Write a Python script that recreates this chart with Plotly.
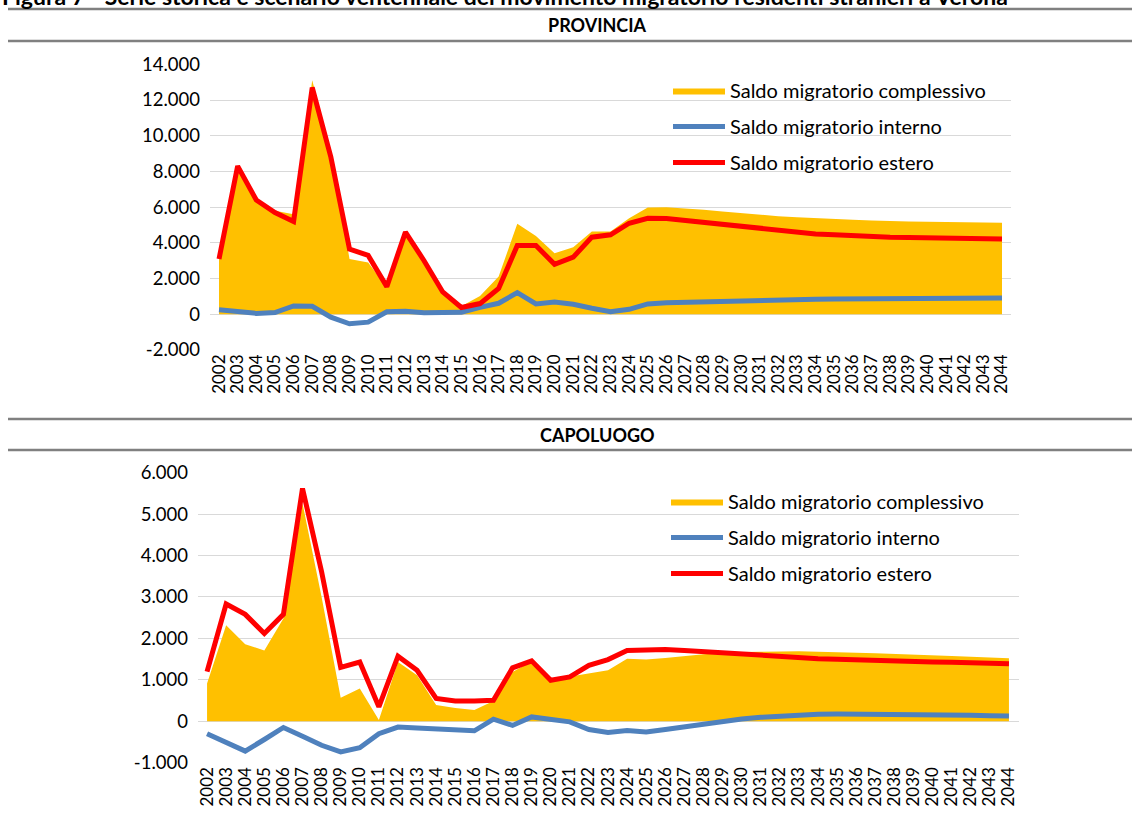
import plotly.graph_objects as go

years = [str(y) for y in range(2002, 2045)]

# PROVINCIA
prov_complessivo = [3200, 8200, 6300, 5800, 5600, 13100, 9100, 3100, 2900, 1500,
                    4400, 2900, 1300, 450, 1030, 2110, 5070, 4390, 3420, 3760,
                    4640, 4640, 5380, 5980, 6000, 5940, 5850, 5760, 5660, 5570,
                    5490, 5440, 5380, 5330, 5290, 5250, 5210, 5200, 5180, 5160,
                    5140, 5120, 5120]
prov_interno = [250, 150, 50, 100, 470, 450, -160, -530, -440, 145,
                165, 80, 120, 110, 390, 617, 1215, 580, 690, 560,
                340, 150, 280, 580, 640, 670, 710, 750, 770, 785,
                800, 820, 840, 860, 870, 880, 885, 890, 895, 900,
                905, 910, 910]
prov_estero = [3100, 8300, 6400, 5700, 5200, 12700, 8800, 3650, 3300, 1550,
               4600, 3000, 1250, 380, 600, 1450, 3850, 3850, 2800, 3200,
               4320, 4450, 5100, 5380, 5360, 5250, 5120, 4990, 4880, 4770,
               4670, 4580, 4500, 4450, 4390, 4350, 4320, 4300, 4280, 4260,
               4240, 4230, 4210]

# CAPOLUOGO
cap_complessivo = [910, 2320, 1860, 1710, 2480, 5260, 3000, 570, 790, 30,
                   1430, 1110, 390, 320, 270, 490, 1190, 1450, 1000, 1080,
                   1160, 1230, 1510, 1490, 1530, 1580, 1615, 1650, 1675, 1680,
                   1690, 1690, 1680, 1675, 1655, 1640, 1620, 1605, 1590, 1575,
                   1560, 1545, 1520]
cap_interno = [-300, -500, -720, -440, -150, -360, -580, -740, -640, -300,
               -140, -160, -185, -185, -230, 50, -100, 105, 50, -15,
               -200, -270, -220, -260, -200, -135, -65, 0, 55, 95,
               130, 150, 170, 175, 175, 175, 170, 165, 160, 150,
               145, 135, 130]
cap_estero = [1200, 2830, 2580, 2120, 2580, 5620, 3610, 1300, 1430, 350,
              1570, 1230, 550, 490, 490, 507, 1290, 1460, 990, 1070,
              1350, 1490, 1710, 1730, 1730, 1710, 1680, 1650, 1620, 1585,
              1560, 1540, 1510, 1500, 1480, 1465, 1450, 1440, 1430, 1425,
              1415, 1410, 1390]

prov_tickvals = [-2000, 0, 2000, 4000, 6000, 8000, 10000, 12000, 14000]
prov_ticktext = ["-2.000", "0", "2.000", "4.000", "6.000", "8.000", "10.000", "12.000", "14.000"]
cap_tickvals = [-1000, 0, 1000, 2000, 3000, 4000, 5000, 6000]
cap_ticktext = ["-1.000", "0", "1.000", "2.000", "3.000", "4.000", "5.000", "6.000"]

names = ["Saldo migratorio complessivo", "Saldo migratorio interno", "Saldo migratorio estero"]
YELLOW = "#FFC000"
BLUE = "#4F81BD"
RED = "#FF0000"
FONT = "Lato"

W, H = 1132, 824
def px(x):
    return x / W
def py(y):
    return 1 - y / H

fig = go.Figure()

def add_panel(comp, intr, est, xa, ya, leg):
    fig.add_trace(go.Scatter(x=years, y=comp, name=names[0], mode="lines", fill="tozeroy",
                             fillcolor=YELLOW, line=dict(width=0, color=YELLOW),
                             xaxis=xa, yaxis=ya, legend=leg, legendgroup=leg + "a"))
    fig.add_trace(go.Scatter(x=years, y=intr, name=names[1], mode="lines",
                             line=dict(width=5, color=BLUE),
                             xaxis=xa, yaxis=ya, legend=leg, legendgroup=leg + "b"))
    fig.add_trace(go.Scatter(x=years, y=est, name=names[2], mode="lines",
                             line=dict(width=5, color=RED),
                             xaxis=xa, yaxis=ya, legend=leg, legendgroup=leg + "c"))

add_panel(prov_complessivo, prov_interno, prov_estero, "x", "y", "legend")
add_panel(cap_complessivo, cap_interno, cap_estero, "x2", "y2", "legend2")

xcommon = dict(type="category", range=[-0.5, 42.5], tickmode="linear", tick0=0, dtick=1,
               tickangle=-90, showgrid=False, zeroline=False, showline=False, automargin=False,
               tickfont=dict(family=FONT, size=17, color="#000000"), ticks="", fixedrange=True)
ycommon = dict(showgrid=True, gridcolor="#D9D9D9", gridwidth=1.3, zeroline=False, showline=False,
               automargin=False,
               tickfont=dict(family=FONT, size=18.5, color="#000000"),
               ticks="", tickmode="array")

legcommon = dict(bgcolor="rgba(0,0,0,0)", font=dict(family=FONT, size=20, color="#000000"),
                 tracegroupgap=7, itemwidth=52, xanchor="left", yanchor="top",
                 traceorder="grouped")

# y axes are placed slightly left of the plot area so their labels sit ~20px from the grid
fig.update_layout(
    template="none",
    width=W, height=H,
    margin=dict(l=0, r=0, t=0, b=0, pad=0, autoexpand=False),
    paper_bgcolor="white", plot_bgcolor="white",
    xaxis=dict(domain=[px(209.7), px(1011.3)], anchor="y", **xcommon),
    yaxis=dict(domain=[py(350), py(64.3)], anchor="free", position=px(200), range=[-2000, 14000],
               tickvals=prov_tickvals, ticktext=prov_ticktext, **ycommon),
    xaxis2=dict(domain=[px(197.5), px(1018.5)], anchor="y2", **xcommon),
    yaxis2=dict(domain=[py(762.7), py(472.7)], anchor="free", position=px(188), range=[-1000, 6000],
                tickvals=cap_tickvals, ticktext=cap_ticktext, **ycommon),
    legend=dict(x=px(668), y=py(71), **legcommon),
    legend2=dict(x=px(666), y=py(482), **legcommon),
    showlegend=True,
)

line_col = "#808080"
for yy in [9, 41, 419, 450]:
    fig.add_shape(type="line", xref="paper", yref="paper", x0=px(8), x1=1, y0=py(yy), y1=py(yy),
                  line=dict(color=line_col, width=2.5))

fig.add_annotation(text="<b>PROVINCIA</b>", xref="paper", yref="paper", x=px(597), y=py(25),
                   xanchor="center", yanchor="middle", showarrow=False,
                   font=dict(family=FONT, size=18, color="#000000"))
fig.add_annotation(text="<b>CAPOLUOGO</b>", xref="paper", yref="paper", x=px(597), y=py(435),
                   xanchor="center", yanchor="middle", showarrow=False,
                   font=dict(family=FONT, size=18, color="#000000"))
fig.add_annotation(text="<b>Figura 7 - Serie storica e scenario ventennale del movimento migratorio residenti stranieri a Verona</b>",
                   xref="paper", yref="paper", x=0, y=py(-4), xanchor="left", yanchor="middle",
                   showarrow=False, font=dict(family=FONT, size=23, color="#000000"))

fig.write_html("out.html", post_script="document.body.style.margin='0';",
               config={"displayModeBar": False})
